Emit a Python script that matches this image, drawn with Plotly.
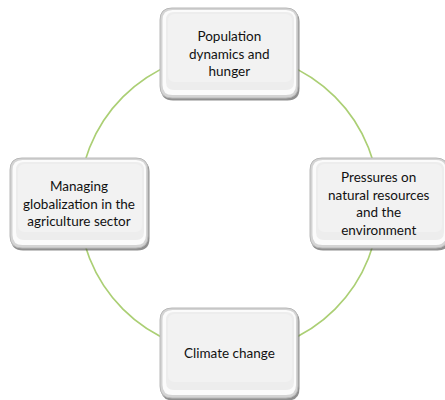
import plotly.graph_objects as go
import math

labels = ["Population<br>dynamics and<br>hunger",
          "Pressures on<br>natural resources<br>and the<br>environment",
          "Climate change",
          "Managing<br>globalization in the<br>agriculture sector"]
angles_deg = [90, 0, -90, 180]

W, H = 445, 400
cx, cy, R = 229, 203, 150
bw, bh = 138, 90

def rrect(x0, y0, x1, y1, r):
    return (f"M {x0+r},{y0} L {x1-r},{y0} Q {x1},{y0} {x1},{y0+r} "
            f"L {x1},{y1-r} Q {x1},{y1} {x1-r},{y1} L {x0+r},{y1} "
            f"Q {x0},{y1} {x0},{y1-r} L {x0},{y0+r} Q {x0},{y0} {x0+r},{y0} Z")

fig = go.Figure()
shapes = [dict(type="circle", xref="x", yref="y", x0=cx-R, x1=cx+R, y0=cy-R, y1=cy+R,
               line=dict(color="#abcf74", width=1.7), layer="below")]
annotations = []
for lab, a in zip(labels, angles_deg):
    t = math.radians(a)
    bx = cx + R*math.cos(t)
    by = cy - R*math.sin(t)
    x0, y0, x1, y1 = bx-bw/2, by-bh/2, bx+bw/2, by+bh/2
    # shadow
    shapes.append(dict(type="path", path=rrect(x0+1, y0+2, x1+1.5, y1+2.5, 12),
                       fillcolor="rgba(70,70,70,0.6)", line=dict(width=0)))
    # main box
    shapes.append(dict(type="path", path=rrect(x0, y0, x1, y1, 12),
                       fillcolor="#d4d4d4", line=dict(color="#b8b8b8", width=1)))
    # white bevel ring (thicker on left/bottom)
    shapes.append(dict(type="path", path=rrect(x0+2.5, y0+2, x1-2, y1-3, 10),
                       fillcolor="#fbfbfb", line=dict(width=0)))
    # inner face
    shapes.append(dict(type="path", path=rrect(x0+6, y0+4, x1-4, y1-8, 8),
                       fillcolor="#ededed", line=dict(width=0)))
    shapes.append(dict(type="path", path=rrect(x0+8, y0+6, x1-6, y1-16, 7),
                       fillcolor="#f2f2f2", line=dict(width=0)))
    annotations.append(dict(x=bx, y=by, xref="x", yref="y", text=lab, showarrow=False,
                            font=dict(family="Lato, Liberation Sans, sans-serif", size=13.5, color="#111111"),
                            align="center"))

fig.update_layout(width=W, height=H, margin=dict(l=0, r=0, t=0, b=0),
                  paper_bgcolor="white", plot_bgcolor="white",
                  xaxis=dict(range=[0, W], visible=False, fixedrange=True),
                  yaxis=dict(range=[H, 0], visible=False, fixedrange=True),
                  shapes=shapes, annotations=annotations, showlegend=False)
fig.write_html("out.html", config={"displayModeBar": False},
               post_script="document.body.style.margin='0';document.body.style.overflow='hidden';")
